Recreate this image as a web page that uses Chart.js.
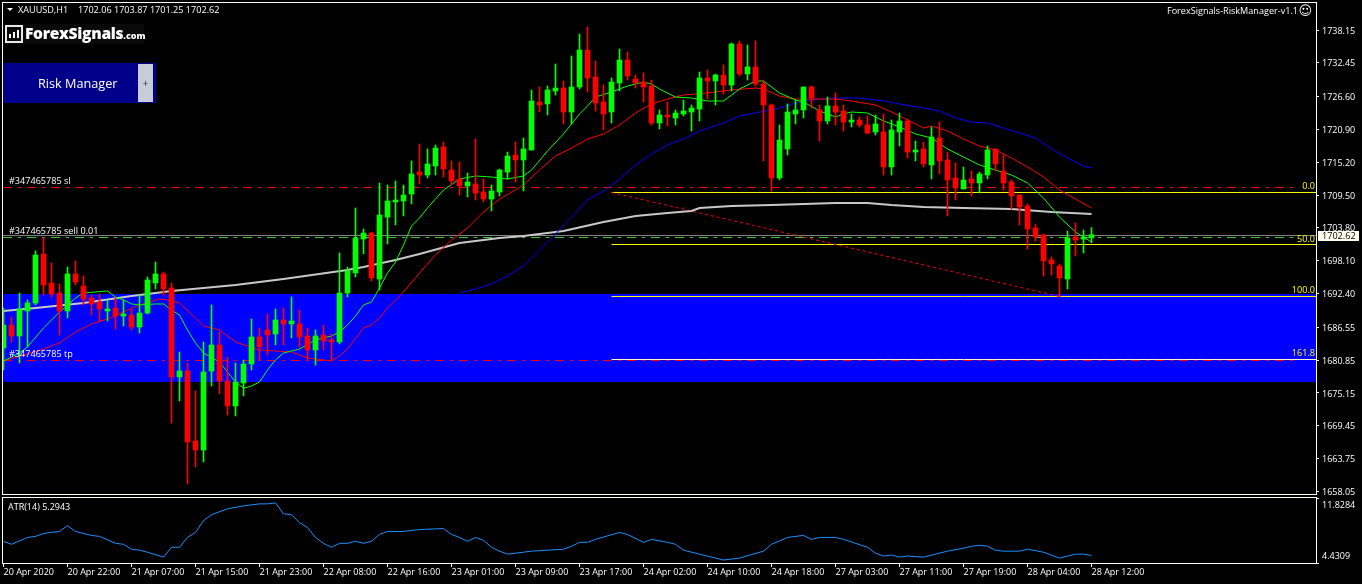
<!DOCTYPE html>
<html>
<head>
<meta charset="utf-8">
<title>XAUUSD,H1</title>
<script src="https://cdn.jsdelivr.net/npm/chart.js@4/dist/chart.umd.js"></script>
<style>
  html, body { margin: 0; padding: 0; background: #000; overflow: hidden; }
  #wrap { position: relative; width: 1362px; height: 584px; }
  canvas { position: absolute; left: 0; }
  #mainChart { top: 0; }
  #atrChart { top: 497px; }
  #logo { position: absolute; left: 5px; top: 24px; width: 139px; height: 20px; background: #0a0a0a; color: #fff; font-family: "Open Sans", sans-serif; font-weight: 800; }
  #logoBox { position: absolute; left: 0; top: 1px; width: 14px; height: 14px; border: 2px solid #e8e8e8; }
  #logoBox i { position: absolute; bottom: 3px; width: 2px; background: #fff; }
  #logoName { position: absolute; left: 20px; top: -1px; font-size: 15.6px; line-height: 20px; letter-spacing: -0.3px; white-space: nowrap; }
  #logoCom { font-size: 9px; letter-spacing: 0; }
  #riskBtn { position: absolute; left: 3px; top: 63px; width: 153px; height: 40px; background: #00008b; }
  #riskText { position: absolute; left: 35px; top: 11px; color: #fff; font: 12.7px/18px "Open Sans", sans-serif; white-space: nowrap; }
  #riskPlus { position: absolute; left: 135px; top: 1px; width: 15px; height: 38px; background: #c8ccd8; color: #303040; font: 10px/38px "Open Sans", sans-serif; text-align: center; }
</style>
</head>
<body>
<div id="wrap">
  <canvas id="mainChart" width="1362" height="495"></canvas>
  <canvas id="atrChart" width="1362" height="87"></canvas>
  <div id="logo">
    <div id="logoBox"><i style="left:2px;height:4px"></i><i style="left:6px;height:6px"></i><i style="left:10px;height:8px"></i></div>
    <div id="logoName">ForexSignals<span id="logoCom">.com</span></div>
  </div>
  <div id="riskBtn">
    <div id="riskText">Risk Manager</div>
    <div id="riskPlus">+</div>
  </div>
</div>
<script>
const opens = [
  1682.96,1686.95,1685.04,1689.38,1690.77,1699.28,1694.24,1692.50,1689.38,1695.81,
  1693.72,1691.63,1690.94,1689.38,1689.90,1688.51,1688.68,1686.60,1689.03,1694.24,
  1695.81,1693.37,1677.93,1678.97,1666.82,1665.25,1678.97,1683.48,1677.23,1672.89,
  1676.88,1680.18,1684.87,1686.08,1685.39,1687.82,1687.13,1687.13,1685.04,1682.61,
  1685.21,1684.35,1684.00,1692.50,1695.98,1701.87,1702.91,1694.93,1705.69,1708.30,
  1708.48,1709.69,1713.50,1712.98,1714.55,1717.85,1713.85,1712.29,1711.08,1711.43,
  1710.03,1708.82,1710.03,1713.50,1716.45,1715.59,1717.32,1725.65,1725.31,1727.57,
  1728.08,1723.92,1728.26,1734.68,1730.00,1725.65,1723.92,1728.95,1732.95,1729.65,
  1729.12,1728.43,1722.01,1723.40,1722.88,1723.58,1723.92,1724.44,1729.82,1729.30,
  1730.34,1728.60,1735.73,1730.52,1731.74,1728.78,1725.13,1712.47,1717.50,1723.58,
  1724.27,1728.26,1724.27,1722.36,1724.96,1724.10,1722.18,1722.53,1721.66,1720.45,
  1720.45,1714.38,1720.45,1722.36,1716.97,1717.50,1714.72,1719.41,1715.59,1712.47,
  1710.56,1712.29,1711.60,1712.98,1717.50,1713.68,1711.77,1709.51,1707.61,1703.78,
  1702.57,1698.23,1697.19,1694.93,1702.22,1701.87,1702.06
];
const closes = [
  1686.95,1685.04,1689.73,1690.77,1699.10,1693.89,1692.33,1689.38,1695.81,1694.41,
  1691.46,1690.60,1689.73,1689.73,1688.51,1688.86,1686.60,1689.03,1694.76,1695.81,
  1693.20,1677.93,1678.97,1666.64,1665.25,1678.79,1683.48,1677.23,1672.89,1677.05,
  1680.18,1684.87,1683.14,1685.21,1687.82,1687.13,1687.65,1684.87,1682.61,1685.04,
  1684.18,1684.00,1692.50,1696.33,1702.05,1702.91,1695.11,1706.04,1708.48,1708.65,
  1709.51,1713.16,1712.98,1714.90,1717.67,1714.03,1711.95,1711.08,1711.77,1709.86,
  1708.82,1710.21,1713.85,1716.28,1715.59,1717.50,1725.83,1725.13,1727.74,1728.08,
  1723.92,1728.26,1734.68,1729.82,1725.48,1723.58,1729.12,1732.95,1730.17,1728.95,
  1728.26,1722.01,1723.40,1723.06,1723.75,1724.10,1724.61,1729.82,1729.30,1730.34,
  1728.60,1735.73,1730.52,1731.74,1728.78,1725.13,1712.47,1719.06,1723.92,1724.27,
  1728.26,1726.35,1722.36,1724.96,1723.92,1722.18,1722.53,1721.66,1720.28,1721.84,
  1714.38,1720.80,1722.36,1716.97,1717.32,1714.90,1719.58,1715.42,1712.12,1710.73,
  1712.12,1711.60,1713.16,1717.32,1714.90,1711.60,1709.34,1707.44,1703.61,1702.22,
  1698.06,1697.54,1695.11,1702.05,1701.70,1702.22,1702.62
];
const highs = [
  1689.90,1688.34,1692.50,1691.29,1699.80,1702.22,1697.71,1694.07,1697.02,1698.06,
  1695.46,1692.15,1692.33,1691.29,1691.63,1691.29,1689.73,1692.15,1695.29,1697.88,
  1696.15,1694.24,1682.26,1680.35,1675.50,1684.00,1690.42,1685.73,1681.39,1680.35,
  1680.87,1687.99,1686.43,1688.86,1689.73,1689.90,1691.81,1689.55,1686.43,1686.08,
  1686.95,1685.39,1699.45,1697.02,1707.26,1703.61,1703.09,1711.60,1711.25,1711.95,
  1711.25,1715.42,1718.37,1717.50,1718.19,1718.71,1715.42,1715.24,1713.33,1719.23,
  1712.29,1711.25,1714.03,1716.97,1718.71,1719.41,1727.74,1728.26,1728.43,1732.26,
  1729.30,1733.64,1737.46,1738.67,1732.78,1728.60,1729.82,1734.85,1734.33,1730.34,
  1730.69,1729.47,1724.27,1725.65,1724.27,1726.00,1725.13,1730.86,1731.21,1730.52,
  1732.08,1735.90,1736.25,1735.55,1736.25,1729.47,1725.31,1721.66,1725.31,1726.00,
  1728.26,1728.43,1725.13,1726.52,1727.22,1725.13,1723.58,1723.06,1723.23,1723.40,
  1723.58,1722.53,1723.75,1722.70,1718.89,1718.71,1721.32,1722.18,1716.97,1715.07,
  1714.38,1713.68,1713.50,1718.02,1717.50,1716.45,1712.12,1709.51,1707.96,1704.48,
  1702.74,1698.76,1697.54,1703.27,1704.65,1703.44,1703.87
];
const lows = [
  1679.14,1684.00,1680.35,1683.14,1690.42,1692.15,1691.81,1685.21,1688.16,1693.89,
  1690.42,1688.68,1687.47,1687.65,1686.25,1686.78,1686.08,1685.56,1688.86,1693.20,
  1692.15,1669.94,1673.76,1659.36,1662.31,1663.17,1676.36,1674.98,1671.33,1671.16,
  1674.63,1679.14,1680.87,1681.74,1683.48,1683.48,1684.70,1683.14,1680.87,1680.00,
  1682.61,1680.87,1683.66,1691.81,1695.29,1699.28,1694.59,1693.02,1701.01,1704.30,
  1705.87,1707.96,1711.43,1712.47,1712.98,1712.64,1711.25,1709.51,1709.17,1708.65,
  1708.30,1706.74,1709.34,1712.29,1711.77,1710.21,1717.32,1723.92,1723.40,1726.87,
  1721.84,1721.84,1727.91,1727.39,1724.10,1720.80,1722.01,1727.57,1729.47,1728.08,
  1725.65,1721.66,1720.97,1721.49,1721.66,1723.23,1720.63,1722.36,1726.17,1725.13,
  1727.05,1727.57,1730.17,1729.47,1728.43,1715.42,1710.21,1712.12,1716.45,1721.84,
  1722.88,1724.61,1718.89,1721.84,1721.66,1720.63,1721.32,1721.32,1720.11,1719.93,
  1712.98,1712.98,1718.02,1715.94,1715.42,1714.38,1712.29,1713.16,1705.87,1708.65,
  1710.56,1709.34,1709.86,1712.29,1713.68,1710.38,1707.09,1704.30,1700.14,1701.53,
  1695.46,1695.63,1691.81,1693.20,1698.93,1699.45,1701.25
];

// moving averages at the bars where they bend
const fastBars = [0,2,3,5,7,9,10,13,14,15,16,17,19,20,21,22,23,24,25,27,29,30,31,32,33,34,35,37,39,41,42,43,44,45,46,47,48,49,50,51,52,53,55,57,59,61,63,65,66,68,70,72,73,74,76,78,80,81,82,84,86,88,90,92,94,95,97,99,100,102,104,105,106,108,110,112,114,116,118,120,122,124,126,128,130,132,134,136];
const fastValues = [1680.70,1682.09,1683.14,1686.43,1689.20,1691.63,1692.50,1692.85,1691.81,1691.29,1690.60,1690.42,1690.60,1690.60,1689.55,1688.68,1686.08,1683.83,1682.09,1680.52,1677.05,1676.01,1676.36,1677.05,1679.14,1680.87,1682.09,1682.78,1684.35,1685.04,1685.73,1686.95,1688.51,1690.42,1690.94,1693.37,1695.98,1697.88,1700.83,1704.13,1705.52,1707.26,1710.38,1712.29,1712.81,1712.64,1712.29,1712.81,1713.85,1717.15,1720.11,1723.58,1724.96,1726.52,1727.39,1728.43,1729.12,1728.78,1727.91,1726.52,1726.35,1725.83,1725.83,1727.91,1729.30,1729.30,1727.22,1726.00,1725.65,1724.10,1723.06,1723.58,1723.92,1723.75,1722.36,1721.32,1720.11,1719.41,1717.50,1716.11,1714.72,1713.85,1712.98,1711.60,1708.99,1705.69,1703.09,1701.36];
const slowBars = [0,5,7,9,11,13,15,17,19,20,22,24,25,27,29,32,36,38,41,42,43,45,46,47,48,49,50,52,54,56,58,60,62,64,65,67,69,71,73,75,77,79,81,83,85,88,91,94,95,97,99,104,106,109,111,113,115,116,118,120,122,124,126,128,130,132,134,136];
const slowValues = [1680.70,1682.78,1683.83,1685.73,1687.13,1687.99,1689.20,1690.42,1691.29,1691.46,1690.77,1688.16,1686.78,1686.08,1684.00,1682.61,1682.26,1681.22,1680.70,1681.57,1682.78,1686.43,1686.95,1688.16,1689.90,1691.29,1692.67,1695.98,1699.10,1701.70,1703.78,1706.56,1708.82,1710.38,1711.25,1713.85,1716.28,1717.67,1719.23,1720.11,1721.66,1723.75,1725.31,1726.17,1726.87,1727.22,1727.74,1728.08,1727.91,1726.69,1726.17,1726.17,1725.83,1725.13,1723.92,1722.53,1721.14,1721.49,1720.63,1719.23,1718.02,1717.32,1715.94,1714.38,1712.64,1710.38,1708.82,1707.26];
const midBars = [57,59,61,63,65,67,69,71,73,75,77,79,81,83,85,87,90,92,94,97,99,101,104,107,110,112,115,117,119,121,123,125,127,129,131,133,135,136];
const midValues = [1692.50,1693.20,1694.07,1695.46,1697.19,1699.97,1702.74,1705.69,1708.65,1710.21,1712.29,1714.72,1716.63,1718.19,1719.23,1720.63,1722.01,1723.23,1723.75,1724.61,1725.48,1726.00,1726.35,1726.35,1725.83,1725.31,1724.61,1724.10,1722.88,1722.18,1722.01,1721.14,1720.28,1719.41,1717.50,1715.94,1714.55,1714.20];
const longBars = [0,4,10,16,21,29,35,43,45,49,52,57,62,65,70,75,79,83,86,87,91,96,104,108,111,115,120,126,131,136];
const longValues = [1689.38,1689.90,1690.77,1691.98,1692.85,1693.89,1694.93,1696.50,1697.02,1698.23,1699.28,1701.18,1702.05,1702.40,1703.27,1704.82,1705.87,1706.39,1706.74,1707.26,1707.61,1707.78,1708.13,1708.13,1707.78,1707.44,1707.26,1707.09,1706.56,1706.21];

const atrBars = [0,1,3,4,5,6,7,8,9,11,12,14,15,16,17,18,20,21,22,23,24,25,26,28,30,32,33,34,35,36,37,38,39,40,41,42,43,44,45,46,47,48,50,52,55,56,57,58,59,60,61,62,63,65,66,70,71,72,73,74,77,78,80,81,83,84,85,87,90,92,95,96,98,100,101,102,104,105,108,109,110,111,112,113,115,118,120,121,122,123,124,125,127,128,130,132,133,134,135,136];
const atrValues = [6.90,6.56,7.34,7.46,7.79,7.91,8.02,8.69,8.02,7.57,7.46,6.67,6.56,6.00,5.89,5.66,5.10,6.22,6.22,7.34,7.91,9.25,9.92,10.60,10.93,11.16,11.16,11.27,10.04,9.92,9.02,8.47,7.34,6.67,6.22,6.67,6.67,6.90,6.67,6.90,7.68,8.02,8.02,8.24,8.35,7.68,7.34,6.90,7.34,7.01,6.22,5.78,5.44,5.66,5.78,6.00,6.34,6.78,6.78,7.12,7.91,7.68,6.78,7.12,6.78,6.56,5.89,5.44,4.77,4.99,5.78,6.56,7.34,7.57,7.12,7.34,7.34,7.12,6.22,5.55,5.22,5.33,5.10,5.22,5.10,5.78,6.11,6.34,6.45,6.34,5.89,5.78,5.78,6.00,5.66,4.99,5.22,5.44,5.44,5.29];

const priceTicks = [1738.15,1732.45,1726.60,1720.90,1715.20,1709.50,1703.80,1698.10,1692.40,1686.55,1680.85,1675.15,1669.45,1663.75,1658.05];
const atrTicks = [11.8284,4.4309];
const timeTicks = [0,8,16,24,32,40,48,56,64,72,80,88,96,104,112,120,128,136];
const timeLabels = ["20 Apr 2020","20 Apr 22:00","21 Apr 07:00","21 Apr 15:00","21 Apr 23:00","22 Apr 08:00","22 Apr 16:00","23 Apr 01:00","23 Apr 09:00","23 Apr 17:00","24 Apr 02:00","24 Apr 10:00","24 Apr 18:00","27 Apr 03:00","27 Apr 11:00","27 Apr 19:00","28 Apr 04:00","28 Apr 12:00"];

// horizontal objects on the chart
const zonePrices = [1692.33,1677.05];
const fibStartBar = 76;
const fibValues = [1709.95,1700.92,1691.90,1680.96];
const fibColors = ["#ffff00","#ffff00","#ffff00","#ffffc8"];
const fibLabels = ["0.0","50.0","100.0","161.8"];
const trendBars = [76,132];
const trendValues = [1709.95,1691.90];
const slPrice = 1710.81;
const entryPrice = 1702.14;
const bidPrice = 1702.48;
const tpPrice = 1680.79;

const xMin = -0.0625;
const xMax = 164.0625;
const orderLineEnd = 161.8;
const font = '"Open Sans", sans-serif';
const textColor = "#ffffff";
const up = "#00ff00";
const down = "#ff0000";

const toPoints = (bars, values) => bars.map((b, i) => ({ x: b, y: values[i] }));

const lineSet = (data, color, width, order, dash) => ({
  type: "line",
  data: data,
  borderColor: color,
  borderWidth: width,
  borderDash: dash || [],
  pointRadius: 0,
  tension: 0,
  fill: false,
  order: order,
});

const levelSet = (value, start, end, color, order, dash) =>
  lineSet(toPoints([start, end], [value, value]), color, 1, order, dash);

const dashDot = [9, 6, 3, 6];

const candleColors = closes.map((c, i) => (c >= opens[i] ? up : down));

const chartObjects = {
  id: "chartObjects",
  beforeDatasetsDraw(chart) {
    const { ctx, chartArea, scales } = chart;
    const top = Math.round(scales.y.getPixelForValue(zonePrices[0]));
    const bottom = Math.round(scales.y.getPixelForValue(zonePrices[1]));
    ctx.save();
    ctx.fillStyle = "#0000ff";
    ctx.fillRect(chartArea.left, top, chartArea.right - chartArea.left, bottom - top);
    ctx.restore();
  },
  afterDraw(chart) {
    const { ctx, scales, chartArea } = chart;
    ctx.save();
    ctx.strokeStyle = "#fffff0";
    ctx.lineWidth = 1;
    ctx.strokeRect(2.5, 2.5, 1314, 492);

    ctx.fillStyle = "#fff";
    ctx.beginPath();
    ctx.moveTo(7, 8);
    ctx.lineTo(13, 8);
    ctx.lineTo(10, 11);
    ctx.closePath();
    ctx.fill();

    ctx.font = "9.1px " + font;
    ctx.textBaseline = "middle";
    ctx.textAlign = "left";
    ctx.fillStyle = textColor;
    ctx.fillText("XAUUSD,H1", 18, 10.5);
    ctx.fillText("1702.06 1703.87 1701.25 1702.62", 78, 10.5);
    ctx.fillText("#347465785 sl", 9, 181.5);
    ctx.fillText("#347465785 sell 0.01", 9, 231.5);
    ctx.fillText("#347465785 tp", 9, 354.5);

    ctx.textAlign = "right";
    ctx.fillText("ForexSignals-RiskManager-v1.1", 1298, 11.5);
    ctx.font = '13px "DejaVu Sans"';
    ctx.fillText("\u263A", 1312, 12);

    ctx.font = "9.1px " + font;
    ctx.fillStyle = "#ffff00";
    fibValues.forEach((v, i) => {
      ctx.fillText(fibLabels[i], 1315, Math.round(scales.y.getPixelForValue(v)) - 6);
    });

    const by = Math.round(scales.y.getPixelForValue(bidPrice));
    ctx.fillStyle = "#fffff0";
    ctx.fillRect(chartArea.right + 2, by - 5, 41, 10);
    ctx.fillStyle = "#000";
    ctx.textAlign = "left";
    ctx.fillText("1702.62", chartArea.right + 6, by + 0.5);
    ctx.restore();
  },
};

new Chart(document.getElementById("mainChart"), {
  type: "bar",
  plugins: [chartObjects],
  data: {
    datasets: [
      {
        data: opens.map((o, i) => ({ x: i, y: [o, closes[i]] })),
        backgroundColor: candleColors,
        barThickness: 5,
        minBarLength: 1,
        grouped: false,
        order: 1,
      },
      {
        data: highs.map((h, i) => ({ x: i, y: [lows[i], h] })),
        backgroundColor: candleColors,
        barThickness: 1,
        grouped: false,
        order: 2,
      },
      lineSet(toPoints(fastBars, fastValues), "#00ff00", 1, 4),
      lineSet(toPoints(slowBars, slowValues), "#ff0000", 1, 5),
      lineSet(toPoints(midBars, midValues), "#0000ff", 1, 6),
      lineSet(toPoints(longBars, longValues), "#c8c8c8", 2, 7),
      lineSet(toPoints(trendBars, trendValues), "#ff0000", 1, 8, [3, 3]),
      levelSet(slPrice, xMin, orderLineEnd, "#ff0000", 9, dashDot),
      levelSet(entryPrice, xMin, orderLineEnd, "#32cd32", 9, dashDot),
      levelSet(tpPrice, xMin, orderLineEnd, "#ff0000", 9, dashDot),
      levelSet(bidPrice, xMin, xMax, "#808080", 9),
      ...fibValues.map((v, i) => levelSet(v, fibStartBar, xMax, fibColors[i], 10)),
    ],
  },
  options: {
    responsive: false,
    animation: false,
    devicePixelRatio: 1,
    layout: { padding: { left: 3, top: 3, right: 0, bottom: 0 } },
    plugins: { legend: { display: false }, tooltip: { enabled: false } },
    scales: {
      x: { type: "linear", min: xMin, max: xMax, offset: false, display: false },
      y: {
        position: "right",
        min: 1657.44,
        max: 1742.84,
        afterBuildTicks: (scale) => {
          scale.ticks = priceTicks.map((v) => ({ value: v }));
        },
        afterFit: (scale) => {
          scale.width = 46;
          scale.paddingTop = 0;
          scale.paddingBottom = 0;
        },
        border: { display: false },
        grid: { drawOnChartArea: false, color: "#fffff0", tickLength: 3 },
        ticks: {
          color: textColor,
          font: { family: font, size: 9 },
          padding: 3,
          labelOffset: 1,
          autoSkip: false,
          callback: (v) => v.toFixed(2),
        },
      },
    },
  },
});

const atrObjects = {
  id: "atrObjects",
  afterDraw(chart) {
    const { ctx, scales } = chart;
    ctx.save();
    ctx.strokeStyle = "#fffff0";
    ctx.strokeRect(2.5, 0.5, 1314, 66);
    ctx.font = "9px " + font;
    ctx.textBaseline = "middle";
    ctx.fillStyle = textColor;
    ctx.fillText("ATR(14) 5.2943", 8, 10);
    ctx.fillText(atrTicks[0].toFixed(4), 1322, scales.y.getPixelForValue(atrTicks[0]) + 7.5);
    ctx.fillText(atrTicks[1].toFixed(4), 1322, scales.y.getPixelForValue(atrTicks[1]) - 7);
    ctx.restore();
  },
};

new Chart(document.getElementById("atrChart"), {
  type: "line",
  plugins: [atrObjects],
  data: {
    datasets: [lineSet(toPoints(atrBars, atrValues), "#1e90ff", 1, 1)],
  },
  options: {
    responsive: false,
    animation: false,
    devicePixelRatio: 1,
    layout: { padding: { left: 3, top: 1, right: 0, bottom: 0 } },
    plugins: { legend: { display: false }, tooltip: { enabled: false } },
    scales: {
      x: {
        type: "linear",
        min: xMin,
        max: xMax,
        afterBuildTicks: (scale) => {
          scale.ticks = timeTicks.map((v) => ({ value: v }));
        },
        afterFit: (scale) => {
          scale.height = 21;
        },
        border: { display: false },
        grid: { drawOnChartArea: false, color: "#fffff0", tickLength: 4 },
        ticks: {
          color: textColor,
          font: { family: font, size: 9 },
          align: "start",
          padding: 0,
          maxRotation: 0,
          autoSkip: false,
          callback: (v) => timeLabels[timeTicks.indexOf(v)],
        },
      },
      y: {
        position: "right",
        min: 4.4309,
        max: 11.8284,
        afterBuildTicks: (scale) => {
          scale.ticks = atrTicks.map((v) => ({ value: v }));
        },
        afterFit: (scale) => {
          scale.width = 46;
        },
        border: { display: false },
        grid: { drawOnChartArea: false, color: "#fffff0", tickLength: 3 },
        ticks: { display: false },
      },
    },
  },
});
</script>
</body>
</html>
